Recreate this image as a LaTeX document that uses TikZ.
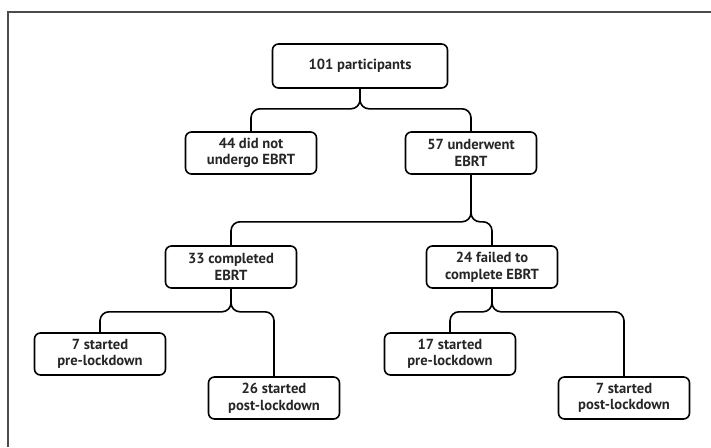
\documentclass[tikz,border=0pt]{standalone}
\usepackage{fontspec}
\setmainfont{PT Sans}
\usepackage{tikz}
\usetikzlibrary{positioning}

\begin{document}
\begin{tikzpicture}[x=1pt, y=-1pt,
		box/.style={draw, rounded corners=6pt, line width=1.6pt, minimum width=131pt, minimum height=42pt, inner sep=2pt, align=center, font=\fontsize{14.6}{16.5}\selectfont\bfseries, text=black!85},
		link/.style={line width=1.6pt, rounded corners=9pt}]
				\useasboundingbox (0,0) rectangle (711,447);
				\draw[line width=1.2pt, black!70] (8,447) -- (8,12) -- (711,12);
				\node[box, minimum width=175pt, minimum height=44pt] (n0) at (360, 66) {101 participants};
				\node[box] (n1) at (251, 153) {44 did not\\undergo EBRT};
				\node[box] (n2) at (471, 153) {57 underwent\\EBRT};
				\node[box] (n3) at (231, 267) {33 completed\\EBRT};
				\node[box] (n4) at (492, 267) {24 failed to\\complete EBRT};
				\node[box] (n5) at (100, 354) {7 started\\pre-lockdown};
				\node[box] (n6) at (274, 398) {26 started\\post-lockdown};
				\node[box] (n7) at (450, 354) {17 started\\pre-lockdown};
				\node[box] (n8) at (624, 398) {7 started\\post-lockdown};
				\draw[link] (n0.south) -- ++(0,20) -| (n1.north);
				\draw[link] (n0.south) -- ++(0,20) -| (n2.north);
				\draw[link] (n2.south) -- ++(0,47) -| (n3.north);
				\draw[link] (n2.south) -- ++(0,47) -| (n4.north);
				\draw[link] (n3.south) -- ++(0,23) -| (n5.north);
				\draw[link] (n3.south) -- ++(0,23) -| (n6.north);
				\draw[link] (n4.south) -- ++(0,23) -| (n7.north);
				\draw[link] (n4.south) -- ++(0,23) -| (n8.north);
			\end{tikzpicture}
\end{document}
